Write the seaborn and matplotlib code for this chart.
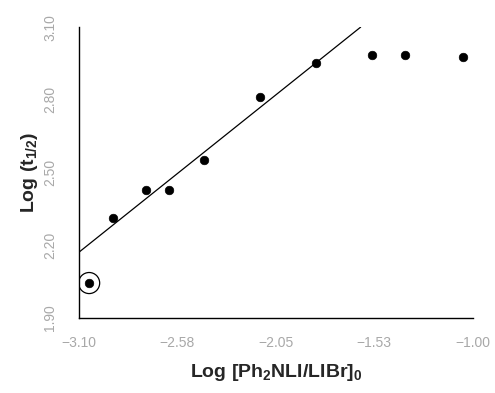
import matplotlib
matplotlib.use("Agg")
import matplotlib.pyplot as plt
import seaborn as sns
import pandas as pd

# data
log_conc = [-3.047, -2.918, -2.742, -2.619, -2.437, -2.137, -1.838, -1.539, -1.363, -1.056]
log_t_half = [2.044, 2.312, 2.428, 2.428, 2.552, 2.811, 2.952, 2.985, 2.985, 2.978]
outlier_x = [-3.047]
outlier_y = [2.044]
fit_x = [-3.10, -1.60]
fit_y = [2.172, 3.10]

x_ticks = [-3.10, -2.58, -2.05, -1.53, -1.00]
x_labels = ["\u22123.10", "\u22122.58", "\u22122.05", "\u22121.53", "\u22121.00"]
y_ticks = [1.90, 2.20, 2.50, 2.80, 3.10]
y_labels = ["1.90", "2.20", "2.50", "2.80", "3.10"]

df = pd.DataFrame({"x": log_conc, "y": log_t_half})

sns.set_style("white")
plt.rcParams['font.family'] = ['Liberation Sans', 'DejaVu Sans']
plt.rcParams['mathtext.fontset'] = 'custom'
plt.rcParams['mathtext.bf'] = 'Liberation Sans:bold'
plt.rcParams['mathtext.rm'] = 'Liberation Sans'

fig = plt.figure(figsize=(4.95, 3.93), dpi=100)
ax = fig.add_axes([0.16, 0.191, 0.796, 0.74])

sns.lineplot(x=fit_x, y=fit_y, color="black", linewidth=0.9, ax=ax)
sns.scatterplot(data=df, x="x", y="y", color="black", s=38, edgecolor="black", ax=ax, zorder=3)
sns.scatterplot(x=outlier_x, y=outlier_y, s=230, facecolor="none", edgecolor="black",
                linewidth=0.9, ax=ax, zorder=3)

ax.set_xlim(-3.10, -1.00)
ax.set_ylim(1.90, 3.10)
ax.set_xticks(x_ticks)
ax.set_xticklabels(x_labels, color="#a8a8a8", fontsize=10)
ax.set_yticks(y_ticks)
ax.set_yticklabels(y_labels, color="#a8a8a8", fontsize=10, rotation=90, va="center")
ax.tick_params(axis="both", length=0)
ax.tick_params(axis="x", pad=13)
ax.tick_params(axis="y", pad=16)

for side in ["top", "right"]:
    ax.spines[side].set_visible(False)
for side in ["left", "bottom"]:
    ax.spines[side].set_color("black")
    ax.spines[side].set_linewidth(1.0)

ax.set_xlabel("Log [Ph$_\\mathbf{2}$NLI/LIBr]$_\\mathbf{0}$", fontsize=14, fontweight="bold", labelpad=9)
ax.set_ylabel("Log (t$_\\mathbf{1/2}$)", fontsize=14, fontweight="bold", labelpad=2)

fig.savefig("out.png", dpi=100)
